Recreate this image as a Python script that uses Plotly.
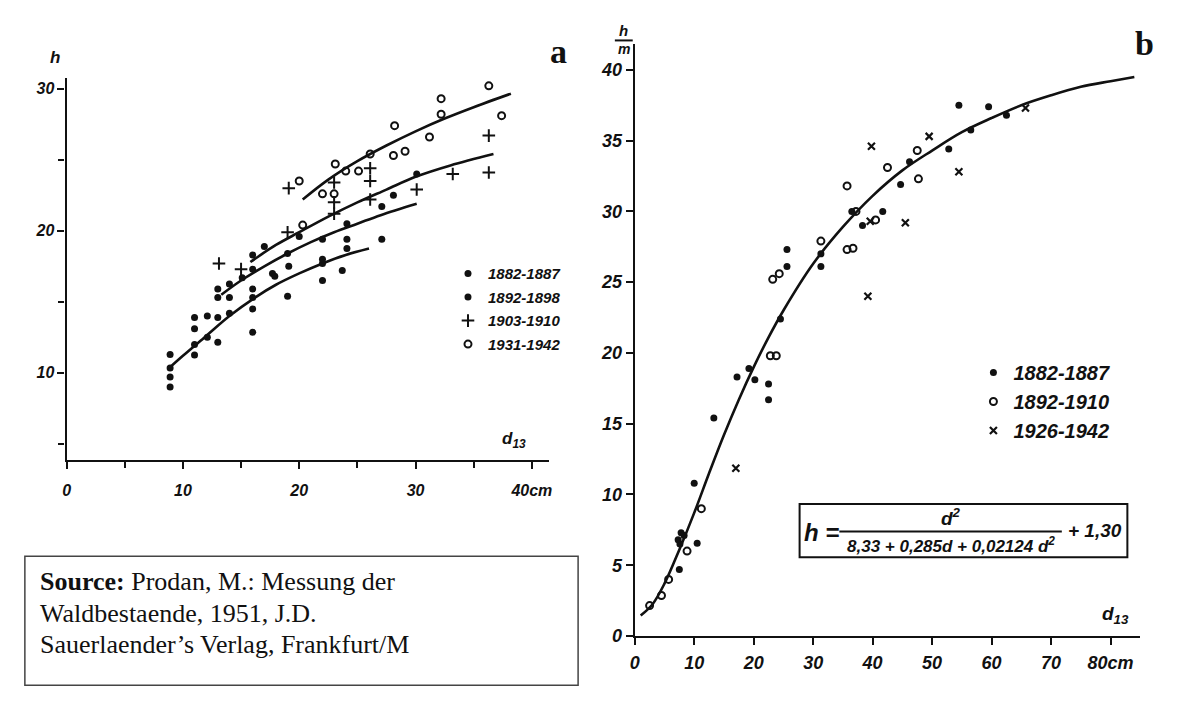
import plotly.graph_objects as go

W, H = 1185, 719

# ---------------- Panel a data ----------------
a_legend = ["1882-1887", "1892-1898", "1903-1910", "1931-1942"]

a1_d = [8.9, 8.9, 8.9, 8.9, 11.0, 11.0, 11.0, 12.1, 13.0, 14.0, 16.0, 16.0, 16.0, 16.0, 19.0, 19.1, 22.0, 22.0, 23.7, 24.1]
a1_h = [11.3, 10.35, 9.7, 9.0, 13.1, 12.0, 11.25, 12.5, 12.15, 14.2, 15.9, 15.3, 14.5, 12.85, 15.4, 17.5, 17.7, 16.5, 17.2, 18.75]

a2_d = [11.0, 12.1, 13.0, 13.0, 13.0, 14.0, 14.0, 15.1, 16.0, 16.0, 17.7, 17.9, 17.0, 19.0, 20.0, 22.0, 22.0, 24.1, 24.1, 27.1, 27.1, 28.1, 30.1]
a2_h = [13.9, 14.0, 13.9, 15.9, 15.3, 16.25, 15.3, 16.7, 17.3, 18.3, 17.0, 16.8, 18.9, 18.4, 19.6, 19.4, 18.0, 20.5, 19.4, 21.7, 19.4, 22.5, 24.0]

a3_d = [13.1, 15.0, 19.0, 19.1, 23.0, 23.0, 23.0, 26.1, 26.1, 26.1, 30.1, 33.2, 36.3, 36.3]
a3_h = [17.7, 17.3, 19.9, 23.0, 23.4, 22.0, 21.2, 24.4, 23.5, 22.2, 22.9, 24.0, 24.1, 26.7]

a4_d = [20.0, 20.3, 22.0, 23.0, 23.1, 24.0, 25.1, 26.1, 28.1, 29.1, 28.2, 31.2, 32.2, 32.2, 36.3, 37.4]
a4_h = [23.5, 20.4, 22.6, 22.6, 24.7, 24.2, 24.2, 25.4, 25.3, 25.6, 27.4, 26.6, 28.2, 29.3, 30.2, 28.1]

# fitted curves
ca_d = [8.9, 10, 12, 14, 16.2, 18, 20, 22, 24, 26]
ca_h = [10.4, 11.2, 12.6, 14.0, 15.3, 16.2, 17.0, 17.7, 18.3, 18.75]
cb_d = [13.3, 15, 17, 19, 21, 23, 25, 27, 30.1]
cb_h = [15.5, 16.5, 17.5, 18.4, 19.2, 19.9, 20.5, 21.1, 21.9]
cc_d = [15.8, 18, 20, 22.5, 25, 27.5, 30, 33, 36.7]
cc_h = [17.8, 19.0, 19.9, 21.0, 22.0, 22.9, 23.8, 24.6, 25.4]
cd_d = [20.3, 22.5, 25, 27.5, 30, 32.5, 35, 38.2]
cd_h = [22.2, 23.6, 24.9, 26.0, 27.0, 27.9, 28.7, 29.65]

a_xticks = [0, 10, 20, 30, 40]
a_xtext = ["0", "10", "20", "30", "40cm"]
a_yticks = [10, 20, 30]

# ---------------- Panel b data ----------------
b_legend = ["1882-1887", "1892-1910", "1926-1942"]

b1_d = [7.5, 7.3, 8.3, 7.6, 7.8, 10.5, 10.0, 13.3, 17.2, 19.2, 20.2, 22.5, 22.5, 24.5, 25.6, 25.6, 31.3, 31.3, 36.5, 38.3, 41.7, 44.7, 46.2, 52.8, 54.5, 56.5, 59.5, 62.5]
b1_h = [4.7, 6.8, 7.1, 6.5, 7.3, 6.55, 10.8, 15.4, 18.3, 18.9, 18.1, 17.8, 16.7, 22.4, 27.3, 26.1, 27.0, 26.1, 30.0, 29.0, 30.0, 31.9, 33.5, 34.4, 37.5, 35.75, 37.4, 36.8]

b2_d = [2.5, 4.5, 5.7, 8.8, 11.2, 22.8, 23.8, 23.2, 24.3, 31.3, 35.7, 36.7, 35.7, 37.2, 40.5, 42.5, 47.5, 47.7]
b2_h = [2.15, 2.86, 4.0, 6.0, 9.0, 19.8, 19.8, 25.2, 25.6, 27.9, 27.3, 27.4, 31.8, 30.0, 29.4, 33.1, 34.3, 32.3]

b3_d = [17.0, 39.2, 39.6, 39.8, 45.5, 49.5, 54.5, 65.7]
b3_h = [11.85, 24.0, 29.3, 34.6, 29.2, 35.3, 32.8, 37.3]

cbb_d = [1, 3, 5, 7.5, 10, 12.5, 15, 17.5, 20, 22.5, 25, 30, 35, 40, 45, 50, 55, 60, 65, 70, 75, 80, 84]
cbb_h = [1.45, 2.25, 3.7, 6.1, 8.7, 11.5, 14.2, 16.7, 19.0, 21.1, 23.0, 26.3, 28.9, 31.1, 32.9, 34.3, 35.6, 36.6, 37.5, 38.2, 38.8, 39.2, 39.5]

b_xticks = [0, 10, 20, 30, 40, 50, 60, 70, 80]
b_xtext = ["0", "10", "20", "30", "40", "50", "60", "70", "80cm"]
b_yticks = [0, 5, 10, 15, 20, 25, 30, 35, 40]

# ---------------- figure ----------------
BLACK = "#111111"
fig = go.Figure()

def px_x(p):
    return p / W

def px_y(p):
    return 1 - p / H

dot = dict(symbol="circle", size=7, color=BLACK)
ring = dict(symbol="circle-open", size=7, color=BLACK, line=dict(width=2, color=BLACK))
plus = dict(symbol="cross-thin-open", size=9, color=BLACK, line=dict(width=2, color=BLACK))
cross = dict(symbol="x-thin-open", size=7, color=BLACK, line=dict(width=2.2, color=BLACK))

# curves a
for cx, cy in [(ca_d, ca_h), (cb_d, cb_h), (cc_d, cc_h), (cd_d, cd_h)]:
    fig.add_trace(go.Scatter(x=cx, y=cy, mode="lines", line=dict(color=BLACK, width=2.6, shape="spline"),
                             showlegend=False, xaxis="x", yaxis="y", hoverinfo="skip"))
# points a
for i, (xx, yy, mk) in enumerate([(a1_d, a1_h, dot), (a2_d, a2_h, dot), (a3_d, a3_h, plus), (a4_d, a4_h, ring)]):
    fig.add_trace(go.Scatter(x=xx, y=yy, mode="markers", marker=mk, name=a_legend[i],
                             legendgroup="a%d" % i, legend="legend", xaxis="x", yaxis="y"))

# curve b
fig.add_trace(go.Scatter(x=cbb_d, y=cbb_h, mode="lines", line=dict(color=BLACK, width=2.6, shape="spline"),
                         showlegend=False, xaxis="x2", yaxis="y2", hoverinfo="skip"))
for i, (xx, yy, mk) in enumerate([(b1_d, b1_h, dot), (b2_d, b2_h, ring), (b3_d, b3_h, cross)]):
    fig.add_trace(go.Scatter(x=xx, y=yy, mode="markers", marker=mk, name=b_legend[i],
                             legendgroup="b%d" % i, legend="legend2", xaxis="x2", yaxis="y2"))

tickfont_a = dict(family="Liberation Sans", size=16, color=BLACK, style="italic", weight="bold")
tickfont_b = dict(family="Liberation Sans", size=18, color=BLACK, style="italic", weight="bold")
axis_common = dict(showline=True, linecolor=BLACK, linewidth=2.2, showgrid=False, zeroline=False,
                   ticks="outside", ticklen=7, tickwidth=2, tickcolor=BLACK,
                   fixedrange=True)

fig.update_layout(
    width=W, height=H,
    margin=dict(l=0, r=0, t=0, b=0),
    paper_bgcolor="white", plot_bgcolor="rgba(0,0,0,0)",
    xaxis=dict(axis_common, domain=[px_x(62), px_x(548)], range=[0, 41.5], anchor="y",
               tickfont=tickfont_a,
               tickmode="array", tickvals=a_xticks, ticktext=a_xtext, ticklabelstandoff=8,
               minor=dict(tickmode="array", tickvals=[5, 15, 25, 35], ticks="outside", ticklen=6,
                          tickwidth=2, tickcolor=BLACK)),
    yaxis=dict(axis_common, domain=[px_y(466), px_y(79)], range=[3.9, 30.76], anchor="x",
               tickfont=tickfont_a,
               tickmode="array", tickvals=a_yticks,
               minor=dict(tickmode="array", tickvals=[5, 15, 25], ticks="outside", ticklen=6,
                          tickwidth=2, tickcolor=BLACK)),
    xaxis2=dict(axis_common, domain=[px_x(634), px_x(1143)], range=[0, 85], anchor="y2",
                tickfont=tickfont_b,
                tickmode="array", tickvals=b_xticks, ticktext=b_xtext, ticklabelstandoff=2),
    yaxis2=dict(axis_common, domain=[px_y(645), px_y(45)], range=[0, 41.8], anchor="x2",
                tickfont=tickfont_b,
                tickmode="array", tickvals=b_yticks),
    legend=dict(x=px_x(446), y=px_y(261), xanchor="left", yanchor="top",
                bgcolor="rgba(0,0,0,0)", tracegroupgap=1, itemwidth=30,
                font=dict(family="Liberation Sans", size=15, color=BLACK, style="italic", weight="bold")),
    legend2=dict(x=px_x(975), y=px_y(358), xanchor="left", yanchor="top",
                 bgcolor="rgba(0,0,0,0)", tracegroupgap=0, itemwidth=30,
                 font=dict(family="Liberation Sans", size=20, color=BLACK, style="italic", weight="bold")),
    showlegend=True,
)

lab = dict(family="Liberation Sans", size=17, color=BLACK, style="italic", weight="bold")
ann = [
    dict(x=px_x(50), y=px_y(58), text="h", font=lab),
    dict(x=px_x(512), y=px_y(446), text="d<sub>13</sub>", font=lab),
    dict(x=px_x(623), y=px_y(31), text="h", font=dict(lab, size=15)),
    dict(x=px_x(623), y=px_y(50), text="m", font=dict(lab, size=14)),
    dict(x=px_x(1118), y=px_y(624), text="d<sub>13</sub>", font=dict(lab, size=19)),
    dict(x=px_x(557), y=px_y(52), text="a", font=dict(family="Liberation Serif", size=34, color=BLACK, weight="bold")),
    dict(x=px_x(1147), y=px_y(44), text="b", font=dict(family="Liberation Serif", size=34, color=BLACK, weight="bold")),
    # formula
    dict(x=px_x(822), y=px_y(540), text="h =", font=dict(lab, size=24)),
    dict(x=px_x(952), y=px_y(524), text="d<sup>2</sup>", font=dict(lab, size=19)),
    dict(x=px_x(952), y=px_y(553), text="8,33 + 0,285d + 0,02124 d<sup>2</sup>", font=dict(lab, size=17)),
    dict(x=px_x(1097), y=px_y(538), text="+ 1,30", font=dict(lab, size=19)),
]
src_lines = ["<b>Source:</b> Prodan, M.: Messung der", "Waldbestaende, 1951, J.D.", "Sauerlaender’s Verlag, Frankfurt/M"]
for i, t in enumerate(src_lines):
    ann.append(dict(x=px_x(33), y=px_y(590 + 32 * i), xanchor="left", align="left", text=t,
                    font=dict(family="Liberation Serif", size=26, color=BLACK)))
for a in ann:
    a.setdefault("xref", "paper")
    a.setdefault("yref", "paper")
    a.setdefault("xanchor", "center")
    a.setdefault("yanchor", "middle")
    a.setdefault("showarrow", False)
    fig.add_annotation(**a)

shapes = [
    dict(type="rect", x0=px_x(800), x1=px_x(1130), y0=px_y(565), y1=px_y(511), line=dict(color=BLACK, width=2)),
    dict(type="line", x0=px_x(840), x1=px_x(1064), y0=px_y(539), y1=px_y(539), line=dict(color=BLACK, width=2)),
    dict(type="line", x0=px_x(614), x1=px_x(632), y0=px_y(41), y1=px_y(41), line=dict(color=BLACK, width=2)),
    dict(type="rect", x0=px_x(20), x1=px_x(577), y0=px_y(695), y1=px_y(564), line=dict(color="#444444", width=1.5)),
]
for s in shapes:
    s.setdefault("xref", "paper")
    s.setdefault("yref", "paper")
    fig.add_shape(**s)

fig.write_html("out.html")
